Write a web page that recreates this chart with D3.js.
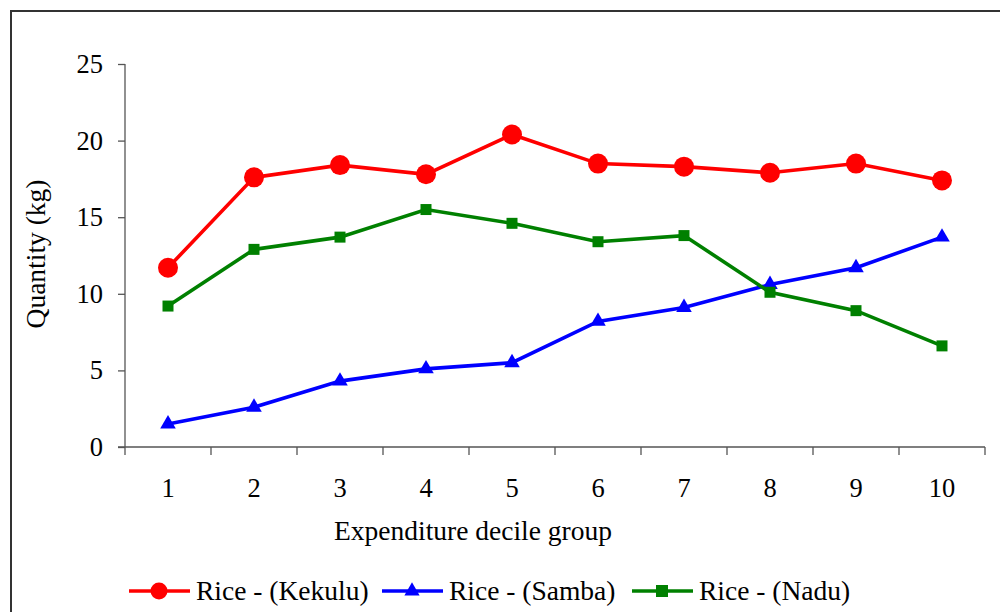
<!DOCTYPE html>
<html><head><meta charset="utf-8">
<script src="https://cdn.jsdelivr.net/npm/d3@7"></script>
<style>body{margin:0;background:#fff;} svg{display:block;font-family:"Liberation Serif","Times New Roman",serif;}</style>
</head><body>
<svg id="c" width="1000" height="612"></svg>
<script>
const categories = ["1","2","3","4","5","6","7","8","9","10"];
const kekulu = [11.7,17.6,18.4,17.8,20.4,18.5,18.3,17.9,18.5,17.4];
const samba  = [1.5,2.6,4.3,5.1,5.5,8.2,9.1,10.6,11.7,13.7];
const nadu   = [9.2,12.9,13.7,15.5,14.6,13.4,13.8,10.1,8.9,6.6];
const yTicks = [0,5,10,15,20,25];
const seriesNames = ["Rice - (Kekulu)","Rice - (Samba)","Rice - (Nadu)"];

const FONT = "Liberation Serif";
const svg = d3.select("#c");
svg.append("rect").attr("x",11).attr("y",11).attr("width",1000).attr("height",620)
  .attr("fill","none").attr("stroke","#333").attr("stroke-width",2);

const x = d3.scaleBand().domain(categories).range([125,985]);
const y = d3.scaleLinear().domain([0,25]).range([447,64]);

// y axis
const ya = svg.append("g").attr("transform","translate(125,0)")
  .call(d3.axisLeft(y).tickValues(yTicks).tickSize(7).tickPadding(15));
ya.select(".domain").attr("stroke","#555").attr("stroke-width",1.3).attr("d","M0,64V447");
ya.selectAll(".tick line").attr("stroke","#555").attr("stroke-width",1.3);
ya.selectAll("text").attr("font-size",26.5).attr("fill","#000").attr("font-family",FONT);

// x axis
const xa = svg.append("g").attr("transform","translate(0,447)")
  .call(d3.axisBottom(x).tickSize(0).tickPadding(31));
xa.select(".domain").attr("stroke","#555").attr("stroke-width",1.3).attr("d","M118,0H985");
xa.selectAll("text").attr("font-size",26.5).attr("fill","#000").attr("font-family",FONT);
const bounds = categories.map(c=>x(c)).concat([x.range()[1]]);
svg.append("g").selectAll("line").data(bounds).join("line")
  .attr("x1",d=>d).attr("x2",d=>d).attr("y1",447).attr("y2",455)
  .attr("stroke","#555").attr("stroke-width",1.3);

svg.append("text").attr("x",473).attr("y",540).attr("text-anchor","middle")
  .attr("font-size",27.5).text("Expenditure decile group");
svg.append("text").attr("transform","translate(45,254) rotate(-90)").attr("text-anchor","middle")
  .attr("font-size",27.5).text("Quantity (kg)");

const cx = c => x(c) + x.bandwidth()/2;
const line = d3.line().x((d,i)=>cx(categories[i])).y(d=>y(d));

const series = [
  {v:kekulu,color:"#ff0000",sym:d3.symbolCircle,size:314,lsize:227},
  {v:samba,color:"#0000ff",sym:d3.symbolTriangle,size:105,lsize:100},
  {v:nadu,color:"#008000",sym:d3.symbolSquare,size:121,lsize:144}
];
series.forEach(s=>{
  svg.append("path").datum(s.v).attr("d",line).attr("fill","none")
    .attr("stroke",s.color).attr("stroke-width",3.6);
  svg.append("g").selectAll("path").data(s.v).join("path")
    .attr("transform",(d,i)=>`translate(${cx(categories[i])},${y(d)})`)
    .attr("d",d3.symbol().type(s.sym).size(s.size)).attr("fill",s.color);
});

// legend
const lx = [129,382,632];
series.forEach((s,i)=>{
  const g = svg.append("g").attr("transform",`translate(${lx[i]},591)`);
  g.append("line").attr("x1",0).attr("x2",61).attr("y1",0).attr("y2",0)
    .attr("stroke",s.color).attr("stroke-width",3.6);
  g.append("path").attr("transform","translate(30,0)")
    .attr("d",d3.symbol().type(s.sym).size(s.lsize)).attr("fill",s.color);
  g.append("text").attr("x",67).attr("y",9).attr("font-size",27.5).text(seriesNames[i]);
});
</script>
</body></html>
